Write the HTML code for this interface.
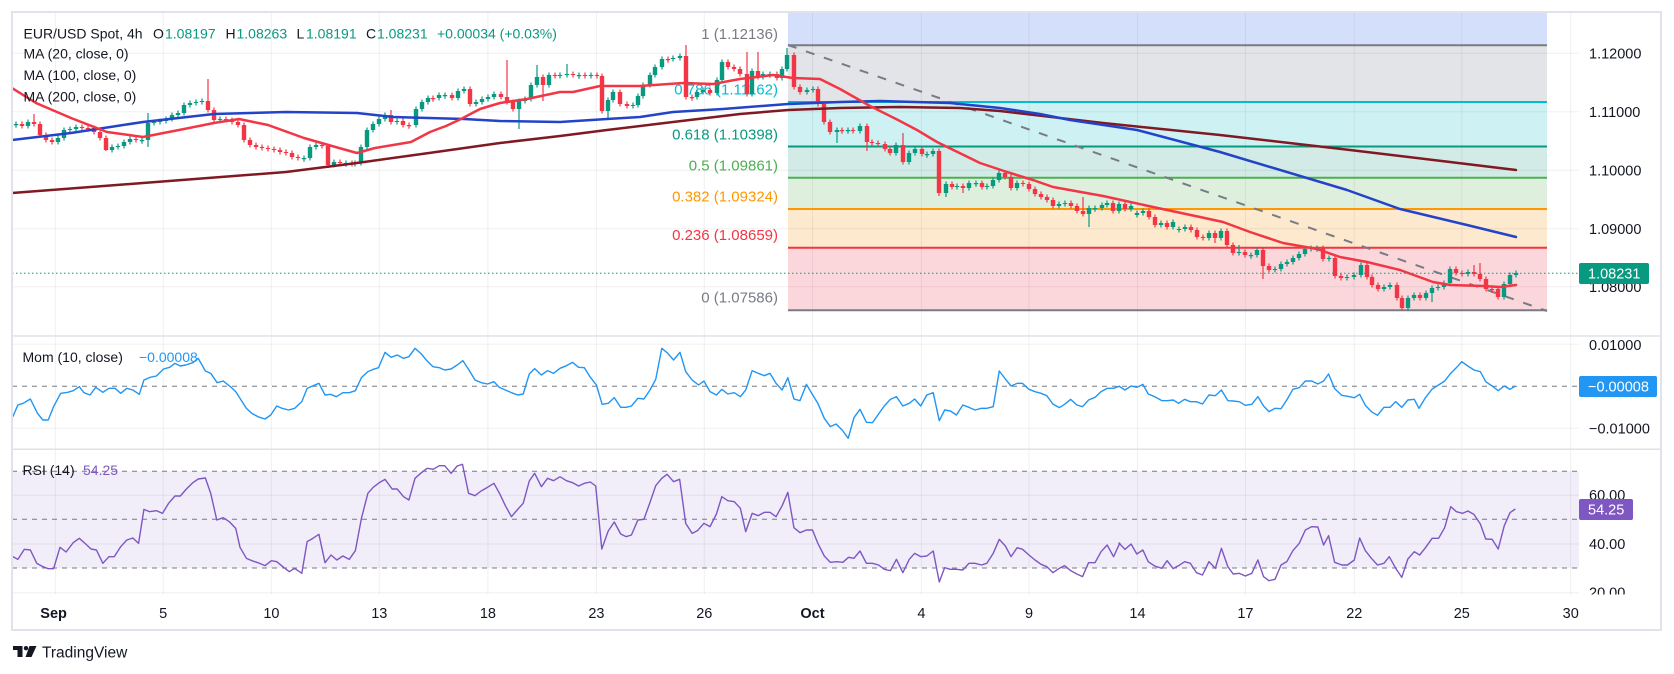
<!DOCTYPE html>
<html><head><meta charset="utf-8">
<style>
html,body{margin:0;padding:0;background:#fff;}
svg{display:block;font-family:"Liberation Sans",sans-serif;}
</style></head>
<body>
<svg width="1674" height="674" viewBox="0 0 1674 674" xmlns="http://www.w3.org/2000/svg">
<defs>
<clipPath id="cm"><rect x="12" y="12" width="1567" height="324"/></clipPath>
<clipPath id="cmo"><rect x="12" y="337" width="1567" height="112"/></clipPath>
<clipPath id="cr"><rect x="12" y="450" width="1567" height="144"/></clipPath>
<clipPath id="cax"><rect x="1579" y="450" width="82" height="144.5"/></clipPath>
</defs>
<rect width="1674" height="674" fill="#fff"/>

<!-- fib zones -->
<g>
<rect x="788" y="12" width="759" height="33.3" fill="#d4dffc"/>
<rect x="788" y="45.3" width="759" height="56.7" fill="#e3e4e7"/>
<rect x="788" y="102" width="759" height="44.5" fill="#cef1f4"/>
<rect x="788" y="146.5" width="759" height="31.2" fill="#d2ebe6"/>
<rect x="788" y="177.7" width="759" height="31.3" fill="#dfefdd"/>
<rect x="788" y="209" width="759" height="38.7" fill="#fde9cd"/>
<rect x="788" y="247.7" width="759" height="62.5" fill="#fbd7db"/>
</g>

<!-- RSI band -->
<rect x="12" y="471.3" width="1567" height="96.7" fill="#f1edf9"/>

<!-- grid -->
<g stroke="#2a2e39" stroke-opacity="0.07" stroke-width="1">
<line x1="12" x2="1579" y1="53.3" y2="53.3"/>
<line x1="12" x2="1579" y1="111.7" y2="111.7"/>
<line x1="12" x2="1579" y1="170.3" y2="170.3"/>
<line x1="12" x2="1579" y1="228.7" y2="228.7"/>
<line x1="12" x2="1579" y1="286.7" y2="286.7"/>
<line x1="12" x2="1579" y1="344.3" y2="344.3"/>
<line x1="12" x2="1579" y1="428.3" y2="428.3"/>
<line x1="12" x2="1579" y1="495.3" y2="495.3"/>
<line x1="12" x2="1579" y1="544" y2="544"/>
<line x1="12" x2="1579" y1="592.7" y2="592.7"/>
<line x1="55.4" x2="55.4" y1="12" y2="594"/>
<line x1="163.2" x2="163.2" y1="12" y2="594"/>
<line x1="271.4" x2="271.4" y1="12" y2="594"/>
<line x1="379.3" x2="379.3" y1="12" y2="594"/>
<line x1="487.9" x2="487.9" y1="12" y2="594"/>
<line x1="596.4" x2="596.4" y1="12" y2="594"/>
<line x1="704.3" x2="704.3" y1="12" y2="594"/>
<line x1="812.5" x2="812.5" y1="12" y2="594"/>
<line x1="921.4" x2="921.4" y1="12" y2="594"/>
<line x1="1029" x2="1029" y1="12" y2="594"/>
<line x1="1137.5" x2="1137.5" y1="12" y2="594"/>
<line x1="1245.4" x2="1245.4" y1="12" y2="594"/>
<line x1="1354.3" x2="1354.3" y1="12" y2="594"/>
<line x1="1461.8" x2="1461.8" y1="12" y2="594"/>
<line x1="1570.7" x2="1570.7" y1="12" y2="594"/>
</g>

<!-- fib lines -->
<g stroke-width="2">
<line x1="788" x2="1547" y1="45.3" y2="45.3" stroke="#787b86"/>
<line x1="788" x2="1547" y1="102" y2="102" stroke="#00bcd4"/>
<line x1="788" x2="1547" y1="146.5" y2="146.5" stroke="#089981"/>
<line x1="788" x2="1547" y1="177.7" y2="177.7" stroke="#4caf50"/>
<line x1="788" x2="1547" y1="209" y2="209" stroke="#ff9800"/>
<line x1="788" x2="1547" y1="247.7" y2="247.7" stroke="#f23645"/>
<line x1="788" x2="1547" y1="310.2" y2="310.2" stroke="#787b86"/>
</g>
<!-- fib labels -->
<g font-size="15" text-anchor="end">
<text x="778" y="39" fill="#787b86">1 (1.12136)</text>
<text x="778" y="94.5" fill="#00bcd4">0.786 (1.11162)</text>
<text x="778" y="139.5" fill="#089981">0.618 (1.10398)</text>
<text x="778" y="170.5" fill="#4caf50">0.5 (1.09861)</text>
<text x="778" y="201.5" fill="#ff9800">0.382 (1.09324)</text>
<text x="778" y="240" fill="#f23645">0.236 (1.08659)</text>
<text x="778" y="302.5" fill="#787b86">0 (1.07586)</text>
</g>

<!-- trend line -->
<line x1="788" y1="45" x2="1547" y2="311" stroke="#787b86" stroke-width="2" stroke-dasharray="9 10"/>

<!-- candles -->
<g clip-path="url(#cm)" fill="none">
<path stroke="#089981" stroke-width="1.2" d="M16 121.5V127.7M28 119.5V128.5M58 135.5V144.5M64 127.5V140.5M70 126.5V132.5M76 124.5V131.5M112 144.5V152.5M118 143.5V149.5M124 139.5V148.5M130 136.5V144.5M142 137.5V143.7M148 113V147M154 119.5V125.5M160 118.5V124.5M166 116.5V123.5M172 112.5V121.5M178 110.5V117.5M184 102.5V115.5M190 100.5V107.5M196 99.5V105.5M202 98.5V104.5M220 116.5V122.5M304 155.5V161.7M310 144.5V160.5M316 142.5V149.5M334 159.5V167.5M346 160.5V166.7M355 160.5V166.5M361 144.5V165.5M367 127.5V149.5M373 121.5V132.5M379 116.5V126.5M385 112.5V121.5M397 118.5V124.5M416 106.5V127.5M422 99.5V111.5M428 95.5V104.5M439 92.5V100.5M445 92.5V98.7M458 88.5V100.5M464 86.5V93.5M476 99.5V106.5M482 96.5V104.5M488 94.5V101.5M494 91.5V99.5M519 98.5V129M525 96.5V103.5M531 82.5V101.5M537 65V87.5M549 72.5V87.5M560 72.5V78.5M567 64V77.5M579 72.5V78.7M591 72.5V78.5M608 97.5V120M613 89.5V102.5M633 102.5V108.5M638 93.5V107.5M643 82.5V98.5M650 72.5V87.5M655 64.5V77.5M662 56.5V69.5M673 55.5V61.5M680 53.5V60.5M697 89.5V99.5M703 87.5V94.5M717 77.5V95.5M722 59.5V82.5M752 68.5V96.5M763 71.5V79.5M770 71.5V77.7M782 66.5V80.5M787 48V71.5M807 87.5V94.5M813 86.5V92.5M837 127.5V143M848 127.5V133.7M860 123.5V133.5M896 142.5V155.5M909 150.5V164.5M915 146.5V155.5M927 151.5V157.7M933 148.5V156.5M946 181.5V197M957 183.5V189.5M969 180.5V190.5M976 180.5V186.7M987 183.5V189.5M993 177.5V188.5M999 170.5V182.5M1017 180.5V190.5M1059 201.5V208.5M1065 200.5V206.5M1089 205.5V227M1095 205.5V211.7M1102 202.5V210.5M1107 200.5V207.5M1119 201.5V213.5M1131 203.5V211.5M1137 210.5V217.5M1143 208.5V215.5M1161 220.5V227.5M1173 219.5V229.5M1179 226.5V232.5M1185 224.5V231.5M1209 230.5V240.5M1221 228.5V240.5M1239 245V255.5M1251 252.5V258.7M1257 247.5V257.5M1275 266.5V272.5M1281 261.5V271.5M1287 259.5V266.5M1293 255.5V264.5M1299 251.5V260.5M1305 246.5V256.5M1311 245.5V251.5M1317 245.5V251.7M1329 255.5V261.5M1347 274.5V280.5M1354 272.5V279.5M1361 262.5V277.5M1384 284.5V291.5M1390 282.5V289.5M1408 295.5V310.5M1414 292.5V300.5M1426 290.5V300.5M1432 285.5V302M1438 284.5V290.5M1444 280.5V289.5M1450 266.5V285.5M1468 269.5V276.5M1504 281.5V299.5M1510 272.5V286.5M1516 270.5V277.5"/>
<path stroke="#089981" stroke-width="4.4" d="M16 124V125.2M28 122V126M58 138V142M64 130V138M70 129V130M76 127V129M112 147V150M118 146V147M124 142V146M130 139V142M142 140V141.2M148 123V140M154 122V123M160 121V122M166 119V121M172 115V119M178 113V115M184 105V113M190 103V105M196 102V103M202 101V102M220 119V120M304 158V159.2M310 147V158M316 145V147M334 162V165M346 163V164.2M355 163V164M361 147V163M367 130V147M373 124V130M379 119V124M385 115V119M397 121V122M416 109V125M422 102V109M428 98V102M439 95V98M445 95V96.2M458 91V98M464 89V91M476 102V104M482 99V102M488 97V99M494 94V97M519 101V109M525 99V101M531 85V99M537 77V85M549 75V85M560 75V76M567 74V75M579 75V76.2M591 75V76M608 100V111M613 92V100M633 105V106M638 96V105M643 85V96M650 75V85M655 67V75M662 59V67M673 58V59M680 56V58M697 92V97M703 90V92M717 80V93M722 62V80M752 71V94M763 74V77M770 74V75.2M782 69V78M787 55V69M807 90V92M813 89V90M837 130V132M848 130V131.2M860 126V131M896 145V153M909 153V162M915 149V153M927 154V155.2M933 151V154M946 184V193M957 186V187M969 183V188M976 183V184.2M987 186V187M993 180V186M999 173V180M1017 183V188M1059 204V206M1065 203V204M1089 208V214M1095 208V209.2M1102 205V208M1107 203V205M1119 204V211M1131 206V209M1137 213V215M1143 211V213M1161 223V225M1173 222V227M1179 229V230M1185 227V229M1209 233V238M1221 231V238M1239 252V253M1251 255V256.2M1257 250V255M1275 269V270M1281 264V269M1287 262V264M1293 258V262M1299 254V258M1305 249V254M1311 248V249M1317 248V249.2M1329 258V259M1347 277V278M1354 275V277M1361 265V275M1384 287V289M1390 285V287M1408 298V308M1414 295V298M1426 293V298M1432 288V293M1438 287V288M1444 283V287M1450 269V283M1468 272V274M1504 284V297M1510 275V284M1516 273V275"/>
<path stroke="#f23645" stroke-width="1.2" d="M22 121.5V128.5M34 114V126.5M40 121.5V137.5M46 132.5V142.5M52 137.5V144.5M82 124.5V130.5M88 125.5V131.7M94 125.5V134.5M100 129.5V140.5M106 135.5V151M136 136.5V142.5M208 79V112.5M214 107.5V122.5M226 116.5V122.5M232 117.5V124.5M238 119.5V127.5M244 122.5V142.5M250 137.5V147.5M256 142.5V149.5M262 144.5V150.5M268 145.5V151.5M274 146.5V152.5M280 147.5V154.5M286 149.5V155.5M292 150.5V159.5M298 154.5V160.5M322 142.5V148.5M328 143.5V168M340 159.5V165.5M352 160.5V166.5M391 110V124.5M403 118.5V127.5M409 122.5V128.7M433 95.5V101.7M452 92.5V100.5M470 86.5V106.5M501 91.5V99.5M507 60V104.5M513 99.5V111.5M543 74.5V101M555 72.5V78.5M573 71.5V77.5M585 72.5V78.5M597 72.5V78.5M602 73.5V113.5M620 89.5V106.5M627 101.5V108.5M668 56.5V62.7M686 45V99.5M692 94.5V100.7M710 87.5V95.5M728 59.5V69.5M734 64.5V71.5M740 66.5V76.5M747 52V96.5M758 52V79.5M777 71.5V80.5M794 52.5V89.5M800 84.5V94.5M818 86.5V106.5M824 101.5V124.5M830 119.5V134.5M842 127.5V133.7M853 127.5V133.5M867 123.5V151M872 139.5V145.5M878 140.5V146.5M885 141.5V151.5M890 146.5V155.5M903 133V164.5M922 146.5V156.5M939 148.5V196M952 181.5V189.5M963 183.5V193M982 180.5V189.5M1005 170.5V179.5M1011 174.5V190.5M1023 180.5V186.5M1029 181.5V191.5M1035 186.5V196.5M1041 191.5V199.5M1047 194.5V202.5M1053 197.5V208.5M1071 200.5V208.5M1077 203.5V213.5M1083 197V216.5M1113 200.5V213.5M1125 201.5V211.5M1149 208.5V219.5M1155 214.5V227.5M1167 220.5V229.5M1191 224.5V232.5M1197 227.5V239.5M1203 234.5V240.5M1215 230.5V243M1227 228.5V247.5M1233 242.5V255.5M1245 249.5V257.5M1263 247.5V279M1269 263.5V272.5M1323 245.5V261.5M1335 255.5V278.5M1341 273.5V280.5M1367 262.5V279.5M1372 274.5V287.5M1378 282.5V291.5M1397 282.5V300.5M1402 295.5V310.5M1420 292.5V300.5M1456 266.5V275.5M1462 270.5V276.5M1474 265V276.5M1480 263V281.5M1486 276.5V291.5M1492 286.5V292.7M1498 286.5V299.5"/>
<path stroke="#f23645" stroke-width="4.4" d="M22 124V126M34 122V124M40 124V135M46 135V140M52 140V142M82 127V128M88 128V129.2M94 128V132M100 132V138M106 138V150M136 139V140M208 101V110M214 110V120M226 119V120M232 120V122M238 122V125M244 125V140M250 140V145M256 145V147M262 147V148M268 148V149M274 149V150M280 150V152M286 152V153M292 153V157M298 157V158M322 145V146M328 146V165M340 162V163M352 163V164M391 115V122M403 121V125M409 125V126.2M433 98V99.2M452 95V98M470 89V104M501 94V97M507 97V102M513 102V109M543 77V85M555 75V76M573 74V75M585 75V76M597 75V76M602 76V111M620 92V104M627 104V106M668 59V60.2M686 56V97M692 97V98.2M710 90V93M728 62V67M734 67V69M740 69V74M747 74V94M758 71V77M777 74V78M794 55V87M800 87V92M818 89V104M824 104V122M830 122V132M842 130V131.2M853 130V131M867 126V142M872 142V143M878 143V144M885 144V149M890 149V153M903 145V162M922 149V154M939 151V193M952 184V187M963 186V188M982 183V187M1005 173V177M1011 177V188M1023 183V184M1029 184V189M1035 189V194M1041 194V197M1047 197V200M1053 200V206M1071 203V206M1077 206V211M1083 211V214M1113 203V211M1125 204V209M1149 211V217M1155 217V225M1167 223V227M1191 227V230M1197 230V237M1203 237V238M1215 233V238M1227 231V245M1233 245V253M1245 252V255M1263 250V266M1269 266V270M1323 248V259M1335 258V276M1341 276V278M1367 265V277M1372 277V285M1378 285V289M1397 285V298M1402 298V308M1420 295V298M1456 269V273M1462 273V274M1474 272V274M1480 274V279M1486 279V289M1492 289V290.2M1498 289V297"/>
</g>

<!-- MAs -->
<g clip-path="url(#cm)" fill="none" stroke-linejoin="round" stroke-linecap="round">
<polyline stroke="#801922" stroke-width="2.5" points="12,193 143,183 286,172 357,163 429,153 500,143 560,136 607,130 673,122 740,114 788,110 840,108 900,107 960,108 1000,111 1103,123 1220,135 1350,150 1450,162 1516,170"/>
<polyline stroke="#2343c8" stroke-width="2.5" points="12,140 71,133 143,122 214,114 286,112 357,113 393,117 464,119 500,121 560,122 607,119 640,117 673,112 723,109 788,104 840,102 880,101 950,103 1000,108 1040,114 1070,120 1137,130 1220,152 1347,190 1400,209 1467,225 1516,237"/>
<polyline stroke="#f23645" stroke-width="2.5" points="12,88 36,103 71,118 107,132 143,137 179,130 214,123 239,119 268,125 304,138 339,148 357,153 375,148 411,142 430,132 446,126 461,119 480,109 500,103 527,99 560,92 573,92 600,86 640,86 683,83 713,84 740,79 773,75 793,78 820,79 840,89 870,106 898,120 917,130 937,142 980,163 1007,172 1033,180 1053,187 1103,196 1153,207 1200,217 1223,222 1250,232 1283,243 1317,249 1340,257 1367,262 1400,270 1433,282 1450,285 1483,286 1500,287 1516,285"/>
</g>

<!-- current price dotted -->
<line x1="12" x2="1579" y1="273.3" y2="273.3" stroke="#089981" stroke-width="1" stroke-dasharray="1.5 2.5"/>

<!-- main legend -->
<g font-size="14" fill="#131722">
<text x="23.5" y="38.5">EUR/USD Spot, 4h</text>
<text x="153" y="38.5">O</text><text x="165" y="38.5" fill="#089981">1.08197</text>
<text x="225.5" y="38.5">H</text><text x="236.5" y="38.5" fill="#089981">1.08263</text>
<text x="296.5" y="38.5">L</text><text x="306" y="38.5" fill="#089981">1.08191</text>
<text x="366" y="38.5">C</text><text x="377" y="38.5" fill="#089981">1.08231</text>
<text x="437" y="38.5" fill="#089981">+0.00034 (+0.03%)</text>
<text x="23.5" y="58.5">MA (20, close, 0)</text>
<text x="23.5" y="80">MA (100, close, 0)</text>
<text x="23.5" y="101.5">MA (200, close, 0)</text>
</g>

<!-- Mom pane -->
<line x1="12" x2="1579" y1="386.3" y2="386.3" stroke="#787b86" stroke-width="1" stroke-dasharray="5 5"/>
<g clip-path="url(#cmo)" fill="none">
<g transform="translate(0,300) scale(0.357143,0.333333)">
<polyline vector-effect="non-scaling-stroke" stroke="#2196f3" stroke-width="1.4" stroke-linejoin="round" points="36,350 50,315 65,310 85,297 105,340 120,360 135,360 150,320 170,280 190,277 205,272 222,260 235,278 252,285 268,262 288,277 305,265 322,265 338,280 355,265 372,270 390,283 403,240 420,232 438,228 458,207 475,202 490,190 505,198 520,195 540,188 555,175 575,213 590,220 608,248 625,243 645,260 660,275 675,300 690,325 705,340 722,350 742,357 758,345 775,318 790,325 808,330 825,325 845,305 860,265 875,258 893,250 910,285 925,283 942,290 960,278 978,278 995,272 1012,233 1030,215 1045,208 1060,203 1078,157 1095,172 1112,165 1130,175 1145,170 1162,145 1180,162 1195,182 1212,200 1230,203 1245,210 1263,207 1280,195 1296,182 1312,208 1330,240 1348,248 1365,252 1383,245 1398,262 1415,270 1432,278 1450,285 1465,282 1482,222 1497,206 1516,225 1533,212 1550,220 1568,205"/>
</g>
<g transform="translate(560,300) scale(0.357143,0.333333)">
<polyline vector-effect="non-scaling-stroke" stroke="#2196f3" stroke-width="1.4" stroke-linejoin="round" points="0,205 18,197 35,187 52,202 68,203 85,232 102,255 118,313 135,310 152,293 170,322 185,322 200,318 218,295 235,297 252,270 268,238 285,145 300,158 318,180 336,157 352,215 370,240 388,255 403,243 420,275 438,285 453,268 470,282 488,278 505,290 520,270 538,212 555,220 572,227 588,220 605,250 622,270 638,233 655,297 672,302 690,253 705,280 722,310 740,355 757,380 773,372 790,390 807,415 823,353 840,328 858,367 875,368 892,342 908,318 925,298 942,290 960,318 978,310 993,297 1010,318 1027,285 1045,278 1062,362 1077,330 1093,333 1110,345 1128,315 1145,322 1162,330 1180,325 1195,325 1213,320 1230,213 1247,237 1263,258 1280,250 1295,250 1313,268 1330,275 1347,280 1363,287 1380,312 1398,323 1413,313 1430,298 1447,315 1463,320 1480,300 1498,292 1515,275 1532,265 1550,265 1568,258"/>
</g>
<g transform="translate(1000,300) scale(0.357143,0.333333)">
<polyline vector-effect="non-scaling-stroke" stroke="#2196f3" stroke-width="1.4" stroke-linejoin="round" points="332,258 350,270 367,258 383,262 400,253 415,282 433,290 453,302 468,302 485,300 500,310 517,298 533,305 550,305 567,312 585,285 603,287 620,270 638,302 653,303 670,305 687,316 705,313 722,290 738,318 753,335 770,325 787,326 803,300 820,268 838,263 855,243 873,243 890,252 906,243 920,222 937,266 957,286 973,289 992,293 1007,283 1023,316 1040,335 1057,346 1075,322 1092,322 1108,305 1125,322 1142,300 1160,298 1173,325 1190,295 1210,267 1228,255 1245,243 1262,220 1278,203 1293,185 1310,198 1327,210 1345,215 1360,245 1378,258 1395,272 1412,258 1428,268 1443,258"/>
</g>
</g>
<g font-size="14">
<text x="22.5" y="362" fill="#131722">Mom (10, close)</text>
<text x="139" y="362" fill="#2196f3">−0.00008</text>
</g>

<!-- RSI pane -->
<g stroke="#787b86" stroke-width="1" stroke-dasharray="5 5">
<line x1="12" x2="1579" y1="471.3" y2="471.3"/>
<line x1="12" x2="1579" y1="519.3" y2="519.3"/>
<line x1="12" x2="1579" y1="568" y2="568"/>
</g>
<g clip-path="url(#cr)" fill="none">
<g transform="translate(0,300) scale(0.357143,0.333333)">
<polyline vector-effect="non-scaling-stroke" stroke="#7e57c2" stroke-width="1.4" stroke-linejoin="round" points="36,770 50,778 68,748 85,750 103,790 120,800 135,806 150,806 168,742 185,756 205,728 222,715 240,732 255,747 270,750 288,790 305,770 320,770 338,740 355,720 372,714 388,730 403,628 418,635 438,632 455,640 472,610 490,588 505,588 522,567 540,548 555,537 575,534 590,580 607,660 625,653 642,665 660,685 672,742 690,775 705,782 722,788 742,797 760,782 775,785 792,800 810,815 825,805 845,820 860,725 876,715 893,703 910,788 927,765 943,780 960,768 978,778 995,752 1012,655 1030,580 1045,562 1062,548 1078,538 1098,567 1112,567 1130,590 1145,600 1162,535 1180,518 1196,505 1213,508 1230,497 1245,497 1263,520 1280,498 1295,493 1312,580 1330,587 1347,573 1365,562 1383,550 1400,583 1415,617 1432,650 1448,630 1465,610 1482,543 1497,520 1516,560 1533,535 1550,542 1568,530"/>
</g>
<g transform="translate(560,300) scale(0.357143,0.333333)">
<polyline vector-effect="non-scaling-stroke" stroke="#7e57c2" stroke-width="1.4" stroke-linejoin="round" points="0,530 18,542 35,548 52,558 68,550 85,546 100,558 117,747 135,693 152,666 170,702 185,710 200,705 218,660 235,658 252,607 268,557 285,535 300,523 318,545 335,538 352,670 370,700 385,692 403,670 420,680 438,642 453,590 470,602 488,605 505,625 520,695 538,640 555,647 572,637 588,637 605,650 622,617 638,577 655,683 672,698 690,690 707,690 722,730 740,768 757,787 775,785 792,787 808,772 823,775 840,753 858,790 875,790 892,795 908,808 925,812 942,778 960,818 978,778 993,760 1010,770 1027,768 1045,753 1062,846 1077,803 1093,808 1110,808 1128,810 1145,790 1162,790 1180,795 1195,790 1213,760 1230,718 1247,738 1263,770 1280,743 1295,748 1313,765 1330,780 1347,793 1363,800 1380,818 1398,805 1413,797 1430,812 1447,822 1463,830 1480,788 1498,788 1515,755 1532,735 1550,770 1568,728"/>
</g>
<g transform="translate(1000,300) scale(0.357143,0.333333)">
<polyline vector-effect="non-scaling-stroke" stroke="#7e57c2" stroke-width="1.4" stroke-linejoin="round" points="332,728 350,748 367,732 383,762 400,750 415,785 433,798 453,805 468,782 485,806 500,797 517,785 533,790 550,818 567,825 585,785 603,805 620,745 638,800 653,822 670,820 687,828 705,820 722,780 738,830 753,842 770,838 787,795 803,785 820,752 838,730 855,690 873,680 890,681 906,735 920,707 937,787 957,795 973,795 992,780 1007,714 1023,752 1040,775 1057,795 1075,790 1090,770 1108,805 1125,832 1142,777 1160,755 1175,765 1190,745 1210,715 1228,715 1245,683 1262,620 1278,635 1295,640 1310,633 1327,643 1345,672 1360,717 1378,718 1395,747 1412,677 1428,638 1443,627"/>
</g>
</g>
<g font-size="14">
<text x="22.5" y="475" fill="#131722">RSI (14)</text>
<text x="83" y="475" fill="#7e57c2">54.25</text>
</g>

<!-- price axis -->
<g font-size="14.5" fill="#131722">
<text x="1589" y="58.5">1.12000</text>
<text x="1589" y="117">1.11000</text>
<text x="1589" y="175.5">1.10000</text>
<text x="1589" y="234">1.09000</text>
<text x="1589" y="292">1.08000</text>
<text x="1589" y="350">0.01000</text>
<text x="1589" y="433.5">−0.01000</text>
<text x="1589" y="500">60.00</text>
<text x="1589" y="549">40.00</text>
<text x="1589" y="597.5" clip-path="url(#cax)">20.00</text>
</g>
<rect x="1579" y="263" width="70" height="21" rx="2" fill="#089981"/>
<text x="1588" y="278.5" font-size="14.5" fill="#fff">1.08231</text>
<rect x="1579" y="376" width="78" height="21" rx="2" fill="#2196f3"/>
<text x="1588" y="391.5" font-size="14.5" fill="#fff">−0.00008</text>
<rect x="1579" y="499" width="54" height="21" rx="2" fill="#7e57c2"/>
<text x="1588" y="514.5" font-size="14.5" fill="#fff">54.25</text>

<!-- time axis -->
<g font-size="14.5" fill="#131722" text-anchor="middle">
<text x="53.6" y="618" font-weight="bold">Sep</text>
<text x="163.2" y="618">5</text>
<text x="271.4" y="618">10</text>
<text x="379.3" y="618">13</text>
<text x="487.9" y="618">18</text>
<text x="596.4" y="618">23</text>
<text x="704.3" y="618">26</text>
<text x="812.5" y="618" font-weight="bold">Oct</text>
<text x="921.4" y="618">4</text>
<text x="1029" y="618">9</text>
<text x="1137.5" y="618">14</text>
<text x="1245.4" y="618">17</text>
<text x="1354.3" y="618">22</text>
<text x="1461.8" y="618">25</text>
<text x="1570.7" y="618">30</text>
</g>

<!-- separators & frame -->
<g stroke="#dfe2ea" stroke-width="1.5">
<line x1="12" x2="1661" y1="336" y2="336"/>
<line x1="12" x2="1661" y1="449.3" y2="449.3"/>
</g>
<rect x="12" y="12" width="1649" height="618" fill="none" stroke="#e0e3eb" stroke-width="2"/>

<!-- TradingView logo -->
<g fill="#131722">
<rect x="13" y="646" width="9.5" height="4"/>
<rect x="17.5" y="646" width="5" height="11"/>
<circle cx="26" cy="648.2" r="2.2"/>
<polygon points="29.5,646 36.5,646 31.5,657 25.5,657"/>
<text x="42" y="657.5" font-size="15.5">TradingView</text>
</g>
</svg>
</body></html>
